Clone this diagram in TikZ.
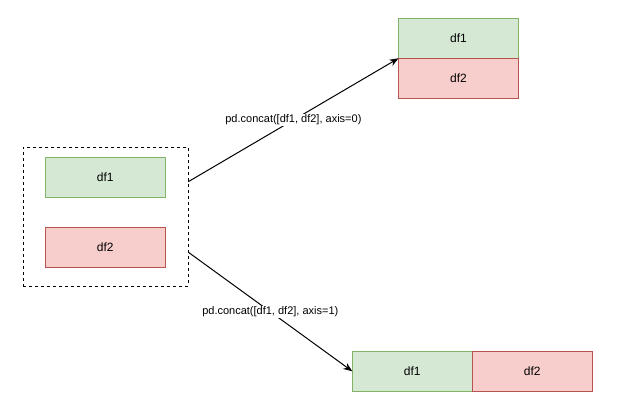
\documentclass[tikz,border=0pt]{standalone}
\usepackage{fontspec}
\setmainfont{Liberation Sans}
\usepackage{tikz}
\usetikzlibrary{calc,arrows.meta,positioning}
\definecolor{df-green}{HTML}{D5E8D4}
\definecolor{df-green-line}{HTML}{82B366}
\definecolor{df-red}{HTML}{F8CECC}
\definecolor{df-red-line}{HTML}{B85450}

\begin{document}
\begin{tikzpicture}[x=1pt, y=-1pt, line width=1pt, >={Stealth[length=9pt,width=7pt]},
    frame/.style={draw, rectangle, minimum width=120pt, minimum height=40pt, outer sep=0pt, font=\fontsize{12}{14}\selectfont},
    green frame/.style={frame, fill=df-green, draw=df-green-line},
    red frame/.style={frame, fill=df-red, draw=df-red-line},
    call/.style={fill=white, inner sep=1pt, font=\fontsize{11}{13}\selectfont}]
    \useasboundingbox (0,0) rectangle (627,411);
    % inputs
    \node[draw, dash pattern=on 3pt off 3pt, minimum width=165pt, minimum height=139pt, outer sep=0pt] (group) at (105.8,216.7) {};
    \node[green frame] (df1) at (105.3,177.3) {df1};
    \node[red frame, below=30pt of df1] (df2) {df2};
    % axis=0
    \node[green frame] (cat0a) at (458.5,38.3) {df1};
    \node[red frame, below=0pt of cat0a] (cat0b) {df2};
    % axis=1
    \node[green frame] (cat1a) at (412.3,371.3) {df1};
    \node[red frame, right=0pt of cat1a] (cat1b) {df2};
    \coordinate (out0) at ($(group.east)+(0,-35)$);
    \coordinate (out1) at ($(group.east)+(0,35.5)$);
    \draw[->] (out0) -- node[call] {pd.concat([df1, df2], axis=0)} (cat0b.north west);
    \draw[->] (out1) -- node[call] {pd.concat([df1, df2], axis=1)} (cat1a.west);
\end{tikzpicture}
\end{document}
